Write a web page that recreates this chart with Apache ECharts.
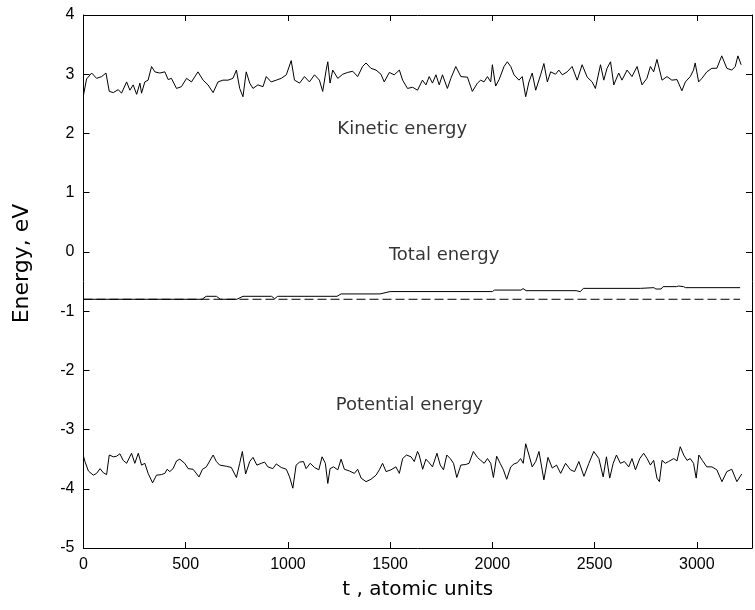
<!DOCTYPE html>
<html>
<head>
<meta charset="utf-8">
<script src="https://cdn.jsdelivr.net/npm/echarts@6/dist/echarts.min.js"></script>
<style>html,body{margin:0;padding:0;background:#fff}#c{width:755px;height:610px}</style>
</head>
<body>
<div id="c"></div>
<script>
// ---- data ----
const xTicks = [0, 500, 1000, 1500, 2000, 2500, 3000];
const yTicks = [-5, -4, -3, -2, -1, 0, 1, 2, 3, 4];

const kineticT = [0,15,40,64,89,110,126,146,170,186,211,227,243,260,276,284,300,316,333,349,373,398,414,430,455,479,504,528,560,585,609,634,658,682,707,731,748,764,780,796,813,829,853,878,894,918,943,967,992,1016,1032,1057,1081,1105,1130,1154,1170,1187,1195,1206,1219,1244,1268,1292,1317,1341,1365,1382,1406,1431,1455,1471,1496,1520,1545,1561,1585,1610,1634,1658,1675,1691,1707,1724,1740,1756,1780,1797,1821,1846,1878,1902,1927,1943,1959,1976,1992,2000,2016,2033,2057,2073,2090,2106,2130,2146,2163,2179,2195,2212,2236,2252,2269,2285,2309,2325,2342,2366,2390,2415,2439,2464,2488,2504,2529,2545,2561,2578,2594,2618,2634,2659,2683,2708,2732,2756,2773,2789,2805,2830,2854,2878,2903,2927,2944,2968,2984,2992,3009,3025,3049,3074,3098,3122,3147,3171,3188,3201,3217];
const kineticE = [2.65,2.92,3.02,2.93,2.96,3.02,2.71,2.69,2.74,2.68,2.87,2.73,2.82,2.66,2.85,2.68,2.87,2.90,3.13,3.04,3.02,3.04,2.91,2.93,2.76,2.79,2.93,2.87,3.04,2.90,2.82,2.69,2.87,2.90,2.90,2.93,3.07,2.76,2.62,3.04,2.85,2.76,2.82,2.79,2.96,2.87,2.90,2.93,2.99,3.23,2.90,2.85,2.96,2.87,2.99,2.90,2.71,3.07,3.21,2.85,3.07,2.93,3.00,3.03,3.05,2.96,3.13,3.19,3.10,3.07,3.00,2.87,3.03,2.99,3.07,2.90,2.76,2.78,2.73,2.90,2.82,2.96,2.85,2.99,2.82,2.99,2.76,2.93,3.13,2.96,2.95,2.71,2.85,2.90,2.87,2.96,2.87,3.16,2.80,2.91,3.13,3.21,3.13,2.99,2.90,2.96,2.62,2.87,3.02,2.73,2.99,3.18,2.87,3.04,3.00,3.07,2.99,3.04,3.13,2.90,3.16,2.95,2.87,2.76,3.16,2.90,3.10,3.21,2.82,3.02,2.90,3.07,2.96,3.13,2.82,2.93,3.13,3.04,3.25,2.90,2.96,2.90,2.91,2.72,2.87,2.96,3.07,3.19,2.87,2.93,3.04,3.10,3.10,3.31,3.10,3.07,3.13,3.31,3.16];

const potentialT = [0,7,24,48,64,81,97,113,126,146,162,178,194,211,235,251,268,284,300,316,338,357,382,398,409,422,438,455,471,495,512,536,565,582,601,634,650,666,699,723,748,764,777,793,813,829,848,870,886,902,926,943,967,992,1008,1024,1040,1057,1076,1089,1109,1130,1151,1167,1183,1195,1206,1223,1244,1260,1276,1301,1325,1341,1358,1382,1406,1431,1447,1463,1480,1504,1528,1545,1561,1580,1602,1618,1634,1642,1659,1675,1691,1707,1729,1745,1761,1777,1794,1810,1826,1846,1870,1886,1907,1927,1943,1960,1976,1992,2005,2021,2038,2054,2070,2090,2106,2122,2138,2151,2163,2179,2195,2212,2228,2252,2272,2293,2314,2334,2358,2382,2402,2423,2448,2472,2496,2521,2542,2558,2574,2591,2607,2626,2646,2667,2683,2700,2721,2740,2757,2773,2789,2805,2817,2830,2846,2862,2887,2903,2919,2936,2952,2968,2984,2997,3010,3027,3049,3074,3098,3123,3147,3171,3196,3220];
const potentialE = [-3.45,-3.54,-3.70,-3.77,-3.74,-3.66,-3.73,-3.76,-3.43,-3.46,-3.45,-3.41,-3.52,-3.57,-3.40,-3.57,-3.40,-3.60,-3.57,-3.74,-3.90,-3.77,-3.76,-3.74,-3.67,-3.71,-3.66,-3.53,-3.50,-3.57,-3.66,-3.67,-3.80,-3.67,-3.63,-3.43,-3.54,-3.60,-3.62,-3.64,-3.81,-3.57,-3.37,-3.75,-3.54,-3.47,-3.60,-3.57,-3.55,-3.63,-3.66,-3.58,-3.64,-3.67,-3.80,-3.99,-3.60,-3.55,-3.54,-3.66,-3.57,-3.64,-3.68,-3.46,-3.57,-3.91,-3.66,-3.63,-3.68,-3.50,-3.67,-3.70,-3.74,-3.67,-3.82,-3.88,-3.84,-3.77,-3.68,-3.57,-3.71,-3.68,-3.63,-3.74,-3.49,-3.43,-3.46,-3.54,-3.37,-3.43,-3.67,-3.50,-3.56,-3.63,-3.40,-3.60,-3.68,-3.43,-3.49,-3.57,-3.81,-3.60,-3.59,-3.57,-3.37,-3.47,-3.52,-3.57,-3.49,-3.57,-3.81,-3.45,-3.57,-3.68,-3.84,-3.63,-3.58,-3.56,-3.49,-3.57,-3.24,-3.43,-3.63,-3.54,-3.37,-3.85,-3.47,-3.65,-3.60,-3.74,-3.57,-3.68,-3.71,-3.54,-3.79,-3.57,-3.37,-3.49,-3.80,-3.46,-3.82,-3.57,-3.43,-3.57,-3.54,-3.63,-3.49,-3.68,-3.49,-3.40,-3.49,-3.60,-3.52,-3.82,-3.88,-3.52,-3.57,-3.54,-3.49,-3.53,-3.29,-3.43,-3.52,-3.49,-3.57,-3.82,-3.43,-3.52,-3.63,-3.63,-3.68,-3.88,-3.71,-3.67,-3.88,-3.75];

const totalT = [0,580,600,650,670,750,780,920,935,950,1240,1260,1450,1500,2000,2010,2140,2150,2165,2410,2430,2445,2724,2730,2790,2800,2825,2835,2900,2910,2935,2945,3212];
const totalE = [-0.80,-0.80,-0.75,-0.75,-0.80,-0.80,-0.75,-0.75,-0.79,-0.75,-0.75,-0.71,-0.71,-0.67,-0.67,-0.645,-0.645,-0.62,-0.655,-0.655,-0.672,-0.616,-0.616,-0.604,-0.604,-0.627,-0.627,-0.587,-0.587,-0.576,-0.587,-0.604,-0.604];

const initialT = [0, 3212];
const initialE = [-0.80, -0.80];

const labelNames = ['Kinetic energy', 'Total energy', 'Potential energy'];
const labelT = [1559, 1764, 1594];
const labelE = [2.07, -0.05, -2.59];

const xMin = 0, xMax = 3270, yMin = -5, yMax = 4;

// ---- chart ----
const zip = (a, b) => a.map((v, i) => [v, b[i]]);
const font = '"Liberation Sans", Arial, sans-serif';
const wide = '"DejaVu Sans", sans-serif';
const chart = echarts.init(document.getElementById('c'), null, { renderer: 'canvas' });

const axisBase = () => ({
  axisLine: { show: true, onZero: false, lineStyle: { color: '#000', width: 1 } },
  axisTick: { show: true, inside: true, length: 6, lineStyle: { color: '#000' } },
  splitLine: { show: false }
});
const lineS = (data, extra) => Object.assign({
  type: 'line', data, showSymbol: false, symbol: 'none', animation: false,
  lineStyle: { color: '#000', width: 1 }, z: 3
}, extra || {});

chart.setOption({
  animation: false,
  backgroundColor: '#fff',
  grid: { left: 83.5, right: 1, top: 15, bottom: 62, containLabel: false },
  xAxis: [
    Object.assign({
      type: 'value', min: xMin, max: xMax, interval: 500, position: 'bottom',
      name: 't , atomic units', nameLocation: 'middle', nameGap: 32,
      nameTextStyle: { fontFamily: wide, fontSize: 20, color: '#000' },
      axisLabel: { show: true, margin: 9, color: '#000', fontFamily: font, fontSize: 16,
        formatter: v => (xTicks.indexOf(v) >= 0 ? String(v) : '') }
    }, axisBase()),
    Object.assign({
      type: 'value', min: xMin, max: xMax, interval: 500, position: 'top',
      axisLabel: { show: false }
    }, axisBase())
  ],
  yAxis: [
    Object.assign({
      type: 'value', min: yMin, max: yMax, interval: 1, position: 'left',
      name: 'Energy, eV', nameLocation: 'middle', nameGap: 50, nameRotate: 90,
      nameTextStyle: { fontFamily: wide, fontSize: 22, color: '#000', padding: [0, 0, 0, 36] },
      axisLabel: { show: true, margin: 9, color: '#000', fontFamily: font, fontSize: 16,
        formatter: v => (yTicks.indexOf(v) >= 0 ? String(v) : '') }
    }, axisBase()),
    Object.assign({
      type: 'value', min: yMin, max: yMax, interval: 1, position: 'right',
      axisLabel: { show: false }
    }, axisBase())
  ],
  series: [
    lineS(zip(kineticT, kineticE)),
    lineS(zip(potentialT, potentialE)),
    lineS(zip(totalT, totalE)),
    lineS(zip(initialT, initialE), { lineStyle: { color: '#000', width: 1, type: [9, 4] } }),
    {
      type: 'scatter', symbolSize: 0, animation: false, silent: true,
      data: labelNames.map((n, i) => ({ name: n, value: [labelT[i], labelE[i]] })),
      label: { show: true, position: 'inside', formatter: p => p.name,
        color: '#000', fontFamily: wide, fontSize: 18 }
    }
  ]
});
</script>
</body>
</html>
